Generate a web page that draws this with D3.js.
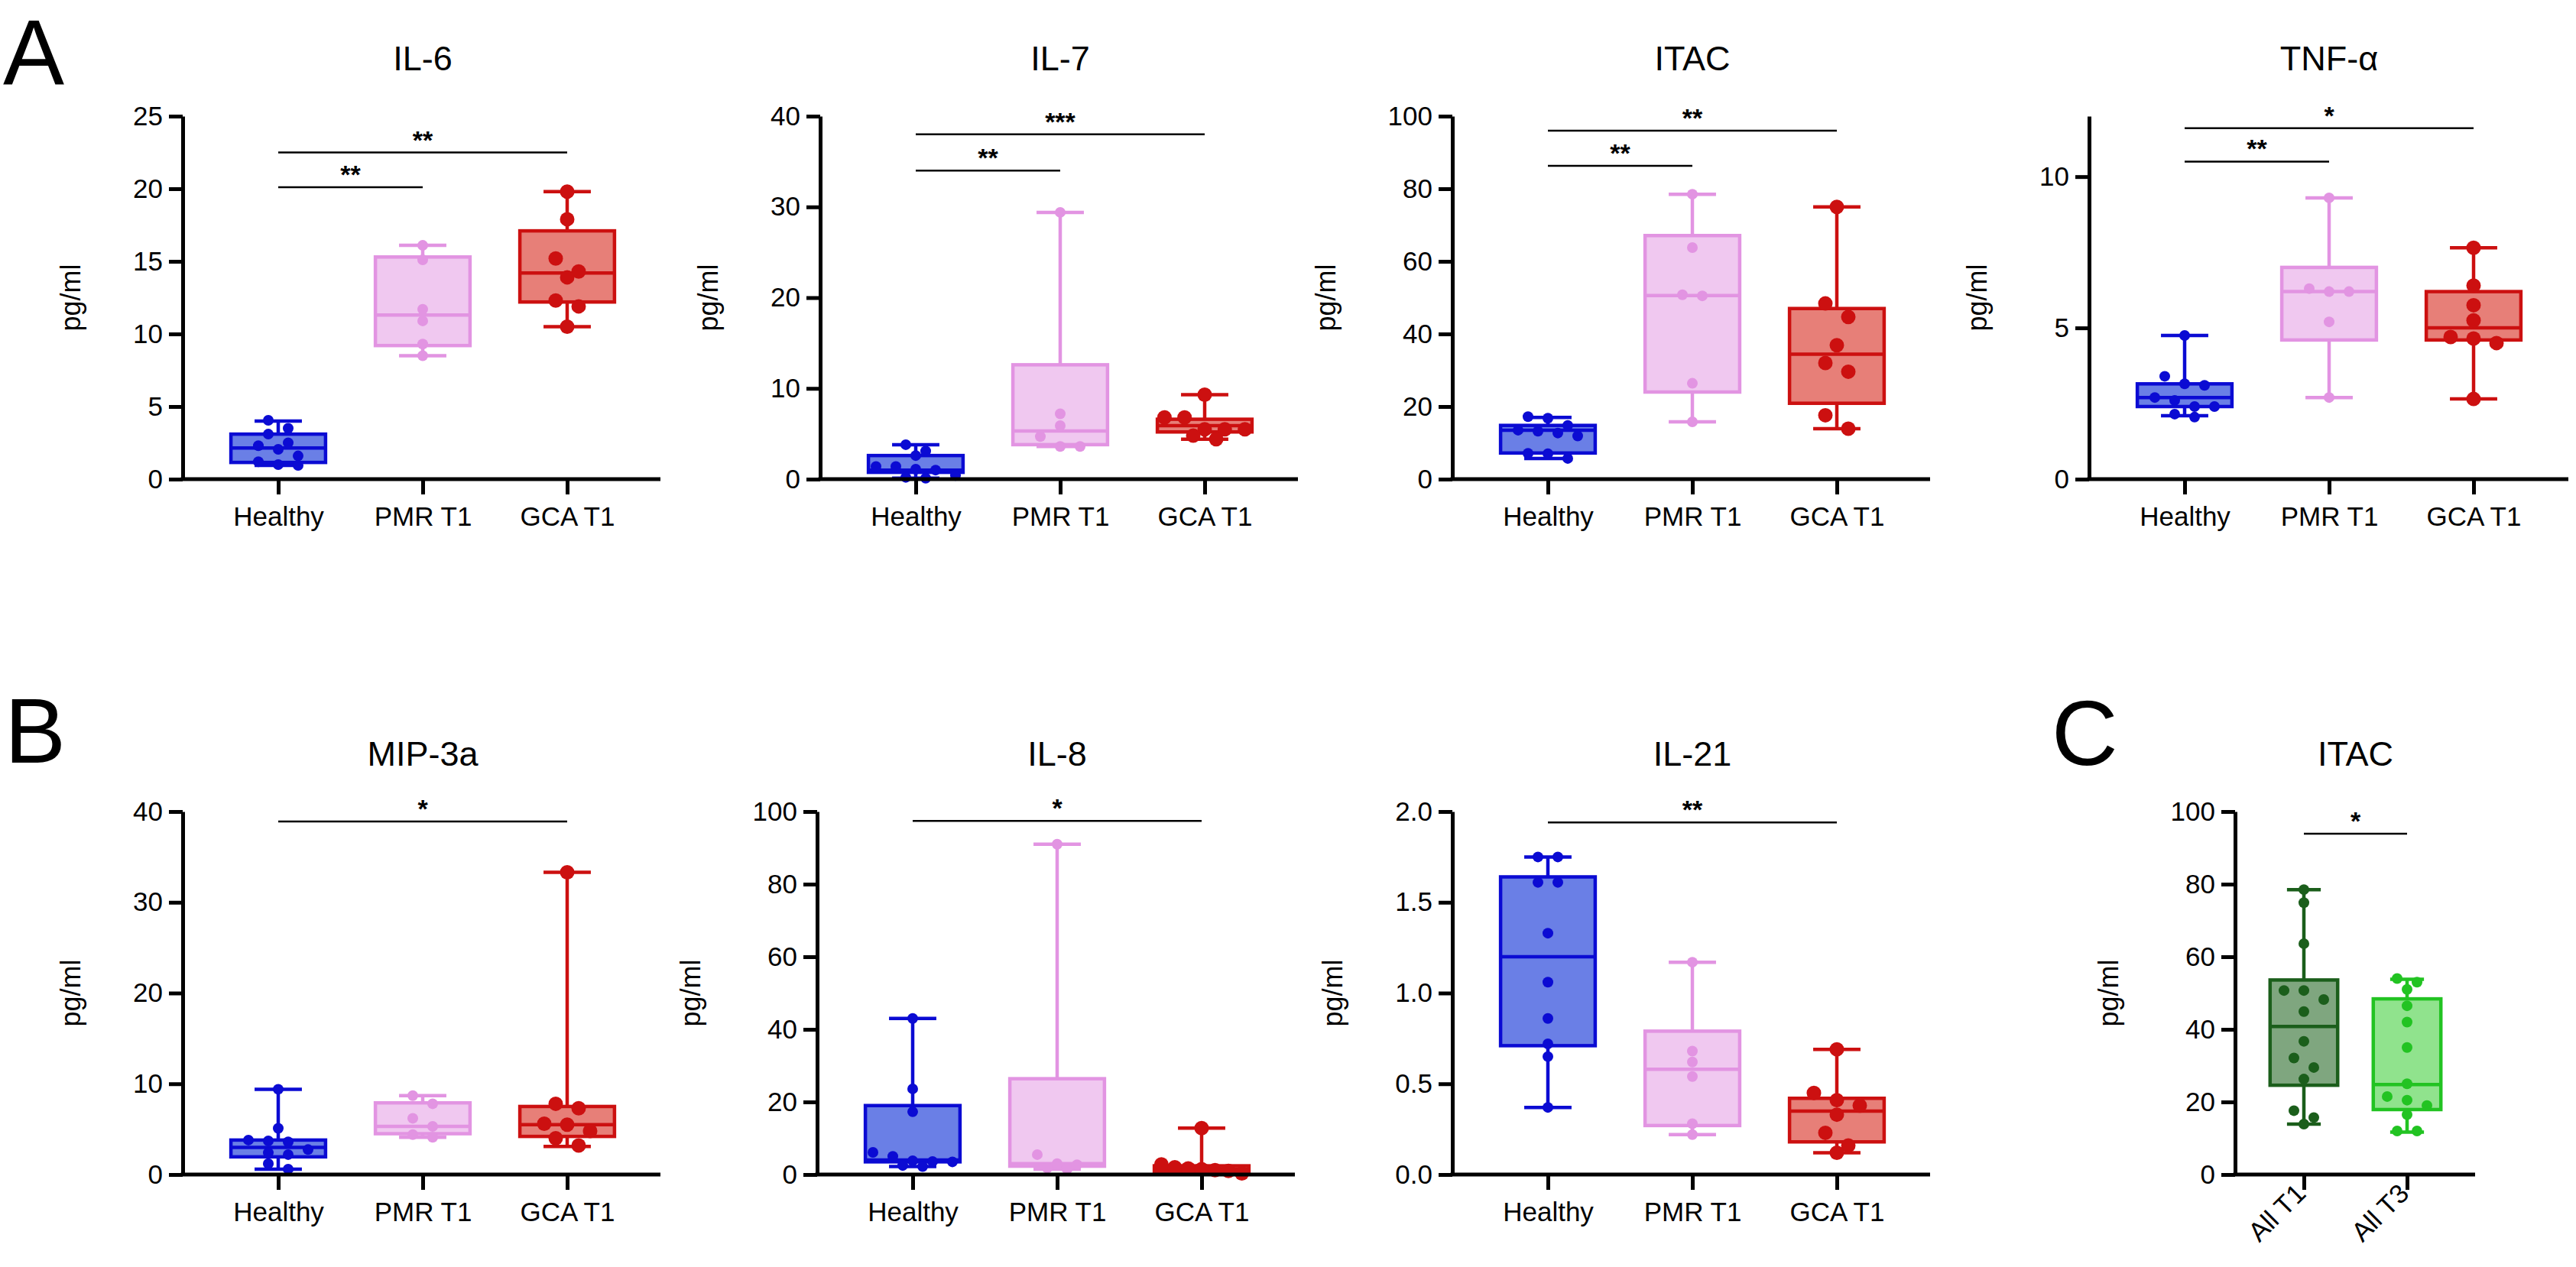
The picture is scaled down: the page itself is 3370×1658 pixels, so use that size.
<!DOCTYPE html>
<html lang="en">

<head>
    <meta charset="UTF-8">
    <title>Cytokines box plots</title>
    <script src="https://unpkg.com/d3@7.8.5/dist/d3.min.js"></script>
    <style>
        body { margin: 0; background: #fff; }
        svg { display: block; }
    </style>
</head>

<body>
    <svg width="3370" height="1658"></svg>
    <script>
        // groups
        var groupsA = ['Healthy', 'PMR T1', 'GCA T1']
        var groupsC = ['All T1', 'All T3']

        // IL-6
        var il6Healthy = [3.1, 3.5, 4.05, 2.05, 2.3, 2.5, 1.6, 0.95, 1.0, 1.2]
        var il6Pmr = [16.1, 15.1, 11.7, 10.9, 9.3, 8.5]
        var il6Gca = [19.8, 17.9, 15.2, 14.3, 13.9, 12.3, 11.9, 10.5]
        var il6Box = [[0.95, 1.15, 2.15, 3.1, 4.0], [8.5, 9.2, 11.3, 15.3, 16.1], [10.5, 12.2, 14.2, 17.1, 19.8]]
        var il6Ticks = [0, 5, 10, 15, 20, 25]
        var il6Sig = [[0, 1, 20.1, '**'], [0, 2, 22.5, '**']]

        // IL-7
        var il7Healthy = [3.8, 3.1, 2.6, 1.4, 1.4, 1.1, 1.0, 0.4, 0.1, 0.2]
        var il7Pmr = [29.4, 7.2, 5.9, 4.7, 3.6, 3.6]
        var il7Gca = [9.3, 6.8, 6.8, 5.5, 5.5, 5.5, 4.8, 4.4]
        var il7Box = [[0.1, 0.75, 1.0, 2.6, 3.8], [3.6, 3.8, 5.3, 12.6, 29.4], [4.4, 5.2, 5.9, 6.6, 9.3]]
        var il7Ticks = [0, 10, 20, 30, 40]
        var il7Sig = [[0, 1, 34.0, '**'], [0, 2, 38.0, '***']]

        // ITAC
        var itacHealthy = [17.2, 16.8, 14.8, 13.2, 12.7, 13.5, 11.9, 7.1, 7.0, 5.7]
        var itacPmr = [78.5, 63.8, 50.5, 50.8, 26.4, 15.8]
        var itacGca = [75.0, 48.4, 44.7, 36.9, 32.0, 29.6, 17.6, 13.9]
        var itacBox = [[5.7, 7.2, 13.5, 14.8, 17.0], [15.8, 24.0, 50.6, 67.1, 78.5], [13.9, 20.9, 34.4, 47.0, 75.0]]
        var itacTicks = [0, 20, 40, 60, 80, 100]
        var itacSig = [[0, 1, 86.3, '**'], [0, 2, 96.0, '**']]

        // TNF-α
        var tnfHealthy = [4.75, 3.4, 3.1, 3.15, 2.7, 2.6, 2.4, 2.4, 2.15, 2.05]
        var tnfPmr = [9.3, 6.3, 6.2, 6.2, 5.2, 2.7]
        var tnfGca = [7.65, 6.4, 5.75, 5.25, 4.7, 4.65, 4.5, 2.65]
        var tnfBox = [[2.1, 2.4, 2.7, 3.15, 4.75], [2.7, 4.6, 6.2, 7.0, 9.3], [2.65, 4.6, 5.0, 6.2, 7.65]]
        var tnfTicks = [0, 5, 10]
        var tnfSig = [[0, 1, 10.5, '**'], [0, 2, 11.6, '*']]

        // MIP-3a
        var mipHealthy = [9.4, 5.1, 3.8, 3.6, 3.7, 2.75, 2.4, 2.2, 1.2, 0.6]
        var mipPmr = [8.7, 7.8, 6.2, 5.3, 4.4, 4.1]
        var mipGca = [33.3, 7.8, 7.3, 5.6, 5.5, 4.8, 4.0, 3.2]
        var mipBox = [[0.6, 1.95, 3.0, 3.8, 9.4], [4.1, 4.5, 5.3, 7.9, 8.7], [3.1, 4.2, 5.5, 7.5, 33.3]]
        var mipTicks = [0, 10, 20, 30, 40]
        var mipSig = [[0, 2, 38.9, '*']]

        // IL-8
        var il8Healthy = [43.0, 23.6, 17.3, 6.1, 5.0, 3.8, 3.6, 3.5, 2.5, 2.2]
        var il8Pmr = [91.0, 5.5, 3.0, 2.7, 1.8, 1.5]
        var il8Gca = [12.8, 2.8, 2.0, 1.7, 1.5, 1.2, 1.0, 0.3]
        var il8Box = [[2.2, 3.5, 4.0, 19.0, 43.0], [1.5, 2.3, 3.0, 26.4, 91.0], [0.3, 0.9, 1.5, 2.4, 12.8]]
        var il8Ticks = [0, 20, 40, 60, 80, 100]
        var il8Sig = [[0, 2, 97.4, '*']]

        // IL-21
        var il21Healthy = [1.75, 1.75, 1.61, 1.61, 1.33, 1.06, 0.86, 0.72, 0.65, 0.37]
        var il21Pmr = [1.17, 0.68, 0.62, 0.54, 0.28, 0.22]
        var il21Gca = [0.69, 0.45, 0.41, 0.38, 0.33, 0.23, 0.16, 0.12]
        var il21Box = [[0.37, 0.71, 1.2, 1.64, 1.75], [0.22, 0.27, 0.58, 0.79, 1.17], [0.12, 0.18, 0.35, 0.42, 0.69]]
        var il21Ticks = [0, 0.5, 1, 1.5, 2]
        var il21Sig = [[0, 2, 1.94, '**']]

        // ITAC, all patients T1 vs T3
        var allT1 = [78.5, 74.9, 63.6, 50.7, 50.7, 48.2, 44.9, 36.7, 32.1, 29.5, 26.3, 17.6, 15.7, 13.9]
        var allT3 = [54, 53, 51, 46.5, 42, 35, 25, 21.5, 20.5, 19, 16.5, 12, 12]
        var allBox = [[13.9, 24.6, 40.8, 53.6, 78.5], [11.7, 17.9, 24.8, 48.4, 53.8]]
        var allTicks = [0, 20, 40, 60, 80, 100]
        var allSig = [[0, 1, 93.9, '*']]

        // colours: [stroke, fill]
        var colA = [['#0b0bd3', '#6a7fe6'], ['#e294e2', '#f0c8f0'], ['#cc1010', '#e77f78']]
        var colC = [['#1b5e1b', '#7fa67f'], ['#22c322', '#90e38d']]

        var FONT = "'Liberation Sans', Arial, sans-serif"
        var svg = d3.select('svg')
        svg.append('rect').attr('width', 3370).attr('height', 1658).attr('fill', '#fff')

        var rows = [[152, 627], [1062, 1537]]

        // spread points that sit on the same height, never wider than maxW
        function swarm(vals, y, r, step, maxW) {
            var pts = vals.map(v => ({ v: v, py: y(v) })).sort((a, b) => a.py - b.py)
            var bins = []
            pts.forEach(p => {
                var last = bins[bins.length - 1]
                if (last && p.py - last[0].py < 2 * r) last.push(p)
                else bins.push([p])
            })
            bins.forEach(b => {
                var s = b.length > 1 ? Math.min(step, maxW / (b.length - 1)) : 0
                b.forEach((p, i) => { p.dx = (i - (b.length - 1) / 2) * s })
            })
            return pts
        }

        function drawPanel(p) {
            var top = rows[p.row][0], bottom = rows[p.row][1]
            var n = p.groups.length
            var g = svg.append('g')
            var y = d3.scaleLinear().domain(p.domain).range([bottom, top])
            var x = d3.scalePoint().domain(p.groups)
                .range([p.x + p.off, p.x + p.off + p.step * (n - 1)])
            var bw = p.step * 0.655

            // boxes
            p.series.forEach((vals, i) => {
                var b = p.box[i], cx = x(p.groups[i]), c = p.colors[i]
                var bg = g.append('g')
                    .attr('stroke', c[0]).attr('stroke-width', 4.5).attr('fill', 'none')
                bg.append('rect')
                    .attr('x', cx - bw / 2).attr('width', bw)
                    .attr('y', y(b[3])).attr('height', y(b[1]) - y(b[3]))
                    .attr('fill', c[1])
                bg.append('line').attr('x1', cx - bw / 2).attr('x2', cx + bw / 2)
                    .attr('y1', y(b[2])).attr('y2', y(b[2]))
                bg.append('line').attr('x1', cx).attr('x2', cx).attr('y1', y(b[3])).attr('y2', y(b[4]))
                bg.append('line').attr('x1', cx).attr('x2', cx).attr('y1', y(b[1])).attr('y2', y(b[0]))
                bg.selectAll('.cap').data([b[0], b[4]]).enter().append('line')
                    .attr('x1', cx - bw / 4).attr('x2', cx + bw / 4)
                    .attr('y1', d => y(d)).attr('y2', d => y(d))

                var r = p.radius[i]
                g.append('g').selectAll('circle').data(swarm(vals, y, r, p.spread[i], bw * 0.85)).enter()
                    .append('circle')
                    .attr('cx', d => cx + d.dx)
                    .attr('cy', d => d.py)
                    .attr('r', r)
                    .attr('fill', c[0])
            })

            // y axis
            var ya = g.append('g').attr('transform', 'translate(' + p.x + ',0)')
                .call(d3.axisLeft(y).tickValues(p.ticks).tickSize(18).tickSizeOuter(0).tickPadding(8)
                    .tickFormat(p.fmt || d3.format('d')))
            ya.select('.domain').attr('stroke-width', 5)
            ya.selectAll('.tick line').attr('stroke-width', 5)
            ya.selectAll('text').attr('font-family', FONT).attr('font-size', 35).attr('fill', '#000')

            // x axis
            var xa = g.append('g').attr('transform', 'translate(0,' + bottom + ')')
                .call(d3.axisBottom(x).tickSize(20).tickPadding(16))
            xa.select('.domain').remove()
            xa.append('line').attr('x1', p.x - 2.5).attr('x2', p.x + p.len)
                .attr('stroke', '#000').attr('stroke-width', 5)
            xa.selectAll('.tick line').attr('stroke-width', 5)
            var xt = xa.selectAll('.tick text').attr('font-family', FONT).attr('font-size', 35).attr('fill', '#000')
            if (p.rotate) {
                xt.attr('text-anchor', 'end').attr('dy', 0).attr('y', 0)
                    .attr('transform', 'translate(4,27) rotate(-45)')
            }

            // y label
            var bb = ya.node().getBBox()
            g.append('text')
                .attr('transform', 'translate(' + (p.x + bb.x - 69) + ',' + (top + bottom) / 2 + ') rotate(-90)')
                .attr('text-anchor', 'middle')
                .attr('font-family', FONT).attr('font-size', 36)
                .text('pg/ml')

            // title
            g.append('text')
                .attr('x', (x.range()[0] + x.range()[1]) / 2).attr('y', top - 60)
                .attr('text-anchor', 'middle')
                .attr('font-family', FONT).attr('font-size', 45)
                .text(p.title)

            // significance bars
            var sg = g.append('g')
            p.sig.forEach(s => {
                var x1 = x(p.groups[s[0]]), x2 = x(p.groups[s[1]])
                sg.append('line').attr('x1', x1).attr('x2', x2)
                    .attr('y1', y(s[2])).attr('y2', y(s[2]))
                    .attr('stroke', '#000').attr('stroke-width', 2.5)
                sg.append('text').attr('x', (x1 + x2) / 2).attr('y', y(s[2]) - 5)
                    .attr('text-anchor', 'middle')
                    .attr('font-family', FONT).attr('font-weight', 'bold').attr('font-size', 34)
                    .text(s[3])
            })
        }

        var rA = [7, 7, 9.5], sA = [26, 26, 30]
        var three = { groups: groupsA, colors: colA, radius: rA, spread: sA, off: 125, step: 189, len: 625 }

        drawPanel(Object.assign({}, three, { row: 0, x: 239, title: 'IL-6', domain: [0, 25], ticks: il6Ticks,
            series: [il6Healthy, il6Pmr, il6Gca], box: il6Box, sig: il6Sig }))
        drawPanel(Object.assign({}, three, { row: 0, x: 1073, title: 'IL-7', domain: [0, 40], ticks: il7Ticks,
            series: [il7Healthy, il7Pmr, il7Gca], box: il7Box, sig: il7Sig }))
        drawPanel(Object.assign({}, three, { row: 0, x: 1900, title: 'ITAC', domain: [0, 100], ticks: itacTicks,
            series: [itacHealthy, itacPmr, itacGca], box: itacBox, sig: itacSig }))
        drawPanel(Object.assign({}, three, { row: 0, x: 2733, title: 'TNF-α', domain: [0, 12], ticks: tnfTicks,
            series: [tnfHealthy, tnfPmr, tnfGca], box: tnfBox, sig: tnfSig, len: 627 }))

        drawPanel(Object.assign({}, three, { row: 1, x: 239, title: 'MIP-3a', domain: [0, 40], ticks: mipTicks,
            series: [mipHealthy, mipPmr, mipGca], box: mipBox, sig: mipSig }))
        drawPanel(Object.assign({}, three, { row: 1, x: 1069, title: 'IL-8', domain: [0, 100], ticks: il8Ticks,
            series: [il8Healthy, il8Pmr, il8Gca], box: il8Box, sig: il8Sig }))
        drawPanel(Object.assign({}, three, { row: 1, x: 1900, title: 'IL-21', domain: [0, 2], ticks: il21Ticks,
            series: [il21Healthy, il21Pmr, il21Gca], box: il21Box, sig: il21Sig, fmt: d3.format('.1f') }))
        drawPanel({ row: 1, x: 2924, title: 'ITAC', domain: [0, 100], ticks: allTicks, groups: groupsC,
            colors: colC, radius: [7, 7], spread: [26, 26], off: 90, step: 135, len: 314, rotate: true,
            series: [allT1, allT3], box: allBox, sig: allSig })

        // panel letters
        svg.selectAll('.letter').data([['A', 4, 110], ['B', 6, 998], ['C', 2684, 1001]]).enter()
            .append('text')
            .attr('x', d => d[1]).attr('y', d => d[2])
            .attr('font-family', FONT).attr('font-size', 120)
            .text(d => d[0])
    </script>
</body>

</html>
